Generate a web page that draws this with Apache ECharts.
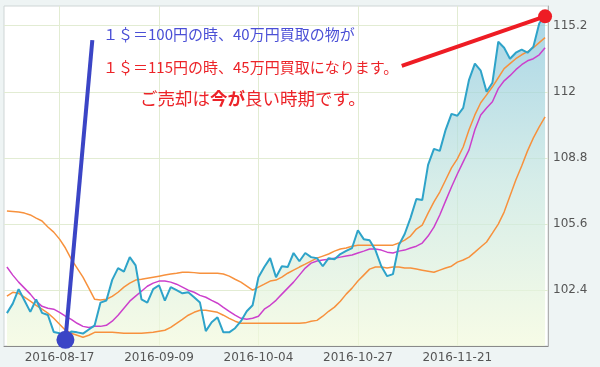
<!DOCTYPE html>
<html>
<head>
<meta charset="utf-8">
<title>ドル円チャート</title>
<script src="https://cdn.jsdelivr.net/npm/echarts@6/dist/echarts.min.js"></script>
<style>
    *{
        padding: 0;
        margin: 0;
    }
    html, body{
        width: 100%;
        height: 100%;
        background: #eef4f4;
    }
    #main{
        width: 600px;
        height: 367px;
    }
</style>
</head>
<body>
<div id="main"></div>
<script>
// 日付（営業日）
var dates = [
    '2016-08-04','2016-08-05','2016-08-08','2016-08-09','2016-08-10','2016-08-11','2016-08-12','2016-08-15','2016-08-16','2016-08-17',
    '2016-08-18','2016-08-19','2016-08-22','2016-08-23','2016-08-24','2016-08-25','2016-08-26','2016-08-29','2016-08-30','2016-08-31',
    '2016-09-01','2016-09-02','2016-09-05','2016-09-06','2016-09-07','2016-09-08','2016-09-09','2016-09-12','2016-09-13','2016-09-14',
    '2016-09-15','2016-09-16','2016-09-19','2016-09-20','2016-09-21','2016-09-22','2016-09-23','2016-09-26','2016-09-27','2016-09-28',
    '2016-09-29','2016-09-30','2016-10-03','2016-10-04','2016-10-05','2016-10-06','2016-10-07','2016-10-10','2016-10-11','2016-10-12',
    '2016-10-13','2016-10-14','2016-10-17','2016-10-18','2016-10-19','2016-10-20','2016-10-21','2016-10-24','2016-10-25','2016-10-26',
    '2016-10-27','2016-10-28','2016-10-31','2016-11-01','2016-11-02','2016-11-03','2016-11-04','2016-11-07','2016-11-08','2016-11-09',
    '2016-11-10','2016-11-11','2016-11-14','2016-11-15','2016-11-16','2016-11-17','2016-11-18','2016-11-21','2016-11-22','2016-11-23',
    '2016-11-24','2016-11-25','2016-11-28','2016-11-29','2016-11-30','2016-12-01','2016-12-02','2016-12-05','2016-12-06','2016-12-07',
    '2016-12-08','2016-12-09','2016-12-12'
];

// 為替レート（終値）
var rate = [
    101.29,101.75,102.45,101.90,101.35,101.95,101.30,101.20,100.38,100.32,
    100.10,100.40,100.36,100.30,100.50,100.70,101.80,101.90,102.90,103.47,
    103.30,104.00,103.60,101.96,101.80,102.45,102.64,101.90,102.55,102.40,
    102.25,102.30,102.06,101.80,100.42,100.85,101.09,100.36,100.36,100.56,
    100.90,101.38,101.67,103.03,103.52,103.95,103.03,103.56,103.52,104.20,
    103.80,104.20,104.00,103.95,103.56,103.95,103.90,104.15,104.30,104.44,
    105.30,104.87,104.82,104.34,103.56,103.08,103.18,104.58,105.12,105.90,
    106.81,106.76,108.46,109.24,109.14,110.16,110.93,110.84,111.22,112.58,
    113.36,113.02,112.00,112.44,114.42,114.13,113.60,113.89,114.04,113.89,
    114.18,115.30,115.73
];

// 移動平均（オレンジ・上）
var maA = [
    106.23,106.21,106.18,106.13,106.04,105.89,105.75,105.46,105.21,104.87,
    104.44,103.90,103.47,103.03,102.50,101.96,101.92,101.96,102.10,102.30,
    102.55,102.74,102.89,102.93,102.98,103.03,103.08,103.13,103.18,103.22,
    103.27,103.27,103.25,103.22,103.22,103.22,103.22,103.18,103.08,102.93,
    102.79,102.60,102.40,102.55,102.69,102.84,102.89,103.03,103.22,103.37,
    103.52,103.66,103.81,103.95,104.05,104.15,104.29,104.39,104.44,104.53,
    104.58,104.58,104.58,104.58,104.58,104.58,104.58,104.68,104.82,105.02,
    105.36,105.55,106.13,106.67,107.15,107.73,108.32,108.75,109.33,110.16,
    110.88,111.47,111.85,112.24,112.68,113.12,113.36,113.60,113.79,113.94,
    114.13,114.38,114.62
];

// 移動平均（マゼンタ）
var maB = [
    103.52,103.13,102.79,102.50,102.21,101.87,101.62,101.53,101.48,101.33,
    101.14,100.99,100.80,100.65,100.60,100.65,100.65,100.70,100.90,101.19,
    101.53,101.87,102.11,102.35,102.59,102.74,102.84,102.84,102.79,102.69,
    102.55,102.40,102.30,102.15,102.06,101.91,101.77,101.57,101.38,101.19,
    101.04,100.99,101.04,101.14,101.48,101.67,101.91,102.21,102.50,102.79,
    103.13,103.47,103.71,103.81,103.86,103.90,103.95,104.00,104.05,104.10,
    104.20,104.29,104.39,104.39,104.34,104.24,104.20,104.29,104.34,104.44,
    104.53,104.68,105.02,105.45,106.04,106.72,107.39,108.02,108.61,109.19,
    110.16,110.88,111.22,111.52,112.15,112.53,112.78,113.07,113.31,113.50,
    113.60,113.79,114.13
];

// 移動平均（オレンジ・下）
var maC = [
    102.11,102.30,102.25,102.06,101.87,101.67,101.48,101.29,101.04,100.75,
    100.46,100.32,100.22,100.12,100.22,100.36,100.36,100.36,100.36,100.34,
    100.32,100.32,100.32,100.32,100.34,100.36,100.41,100.46,100.60,100.80,
    100.99,101.19,101.33,101.43,101.43,101.38,101.33,101.19,101.04,100.90,
    100.80,100.80,100.80,100.80,100.80,100.80,100.80,100.80,100.80,100.80,
    100.80,100.82,100.90,100.94,101.14,101.38,101.58,101.87,102.21,102.50,
    102.84,103.13,103.42,103.52,103.52,103.47,103.52,103.52,103.47,103.47,
    103.42,103.37,103.32,103.27,103.37,103.47,103.56,103.76,103.86,104.00,
    104.24,104.49,104.73,105.16,105.60,106.18,106.96,107.73,108.41,109.14,
    109.77,110.30,110.79
];

var yTicks = [102.4, 105.6, 108.8, 112, 115.2];
var firstLabel = 9;      // 2016-08-17
var labelStep = 17;

// 注記の線 [カテゴリ番号, 値]
var blueArrow = [[10, 100.0], [14.6, 114.5]];
var redArrow = [[67.5, 113.25], [92, 115.65]];

function showDate(index) {
    return index >= firstLabel && (index - firstLabel) % labelStep === 0;
}

var myChart = echarts.init(document.getElementById('main'));

myChart.setOption({
    animation: false,
    grid: {
        left: 4, right: 52, top: 6, bottom: 21,
        show: true,
        backgroundColor: '#fff',
        borderColor: '#cfd6d6',
        borderWidth: 1
    },
    xAxis: {
        type: 'category',
        data: dates,
        boundaryGap: true,
        axisLine: { lineStyle: { color: '#8a8a8a' } },
        axisTick: { show: false, interval: showDate, alignWithLabel: true },
        axisLabel: {
            interval: showDate,
            color: '#555',
            fontSize: 12,
            fontFamily: 'DejaVu Sans',
            margin: 6
        },
        splitLine: {
            show: true,
            interval: showDate,
            alignWithLabel: true,
            lineStyle: { color: '#e2ecd3' }
        }
    },
    yAxis: {
        type: 'value',
        position: 'right',
        min: 99.7,
        max: 116.15,
        axisLine: { show: true, lineStyle: { color: '#b0b0b0' } },
        axisTick: { show: false, customValues: yTicks },
        axisLabel: {
            customValues: yTicks,
            color: '#555',
            fontSize: 12,
            fontFamily: 'DejaVu Sans',
            margin: 5
        },
        splitLine: { show: true, lineStyle: { color: '#e2ecd3' } }
    },
    series: [
        {
            name: 'area',
            type: 'line',
            data: rate,
            symbol: 'none',
            lineStyle: { width: 0 },
            areaStyle: {
                color: new echarts.graphic.LinearGradient(0, 0, 0, 1, [
                    { offset: 0, color: '#86c5dc' },
                    { offset: 0.5, color: '#c4e5df' },
                    { offset: 1, color: '#f3fadc' }
                ])
            },
            z: 1
        },
        {
            name: 'maC',
            type: 'line',
            data: maC,
            symbol: 'none',
            lineStyle: { color: '#f7913d', width: 1.5 },
            z: 2
        },
        {
            name: 'maB',
            type: 'line',
            data: maB,
            symbol: 'none',
            lineStyle: { color: '#cc40cc', width: 1.5 },
            z: 2
        },
        {
            name: 'maA',
            type: 'line',
            data: maA,
            symbol: 'none',
            lineStyle: { color: '#f7913d', width: 1.5 },
            z: 2
        },
        {
            name: 'rate',
            type: 'line',
            data: rate,
            symbol: 'none',
            lineStyle: { color: '#2ea3c9', width: 2 },
            z: 3
        }
    ]
});

// カテゴリ番号（小数可）と値からピクセル位置を求める
function toPx(p) {
    var i0 = Math.floor(p[0]), i1 = Math.ceil(p[0]);
    var a = myChart.convertToPixel({ gridIndex: 0 }, [i0, p[1]]);
    var b = myChart.convertToPixel({ gridIndex: 0 }, [i1, p[1]]);
    var t = p[0] - i0;
    return [a[0] + (b[0] - a[0]) * t, a[1]];
}

var b0 = toPx(blueArrow[0]), b1 = toPx(blueArrow[1]);
var r0 = toPx(redArrow[0]), r1 = toPx(redArrow[1]);
var jp = '"Noto Sans CJK JP", sans-serif';

myChart.setOption({
    graphic: [
        { type: 'line', z: 10, shape: { x1: b0[0], y1: b0[1], x2: b1[0], y2: b1[1] },
          style: { stroke: '#3b45c6', lineWidth: 4 } },
        { type: 'circle', z: 11, shape: { cx: b0[0], cy: b0[1], r: 9 },
          style: { fill: '#3b45c6' } },
        { type: 'line', z: 10, shape: { x1: r0[0], y1: r0[1], x2: r1[0], y2: r1[1] },
          style: { stroke: '#ee1c24', lineWidth: 4 } },
        { type: 'circle', z: 11, shape: { cx: r1[0], cy: r1[1], r: 7 },
          style: { fill: '#ee1c24' } },
        { type: 'text', z: 12, left: 103, top: 27,
          style: { text: '１＄＝100円の時、40万円買取の物が', fill: '#4a4fd6', font: '15px ' + jp } },
        { type: 'text', z: 12, left: 103, top: 60,
          style: { text: '１＄＝115円の時、45万円買取になります。', fill: '#ec2328', font: '15px ' + jp } },
        { type: 'text', z: 12, left: 140, top: 90,
          style: {
              text: '{a|ご売却は}{b|今が}{a|良い時期です。}',
              rich: {
                  a: { fill: '#ec2328', fontSize: 17.5, fontFamily: 'Noto Sans CJK JP' },
                  b: { fill: '#ec2328', fontSize: 17.5, fontWeight: 'bold', fontFamily: 'Noto Sans CJK JP' }
              }
          } }
    ]
});
</script>
</body>
</html>
